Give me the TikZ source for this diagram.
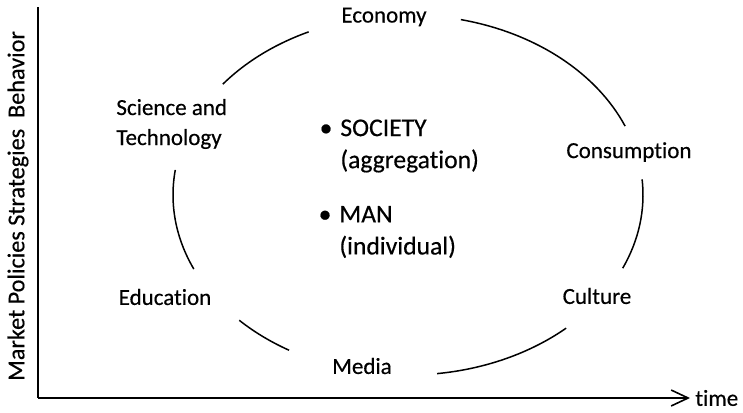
\documentclass[tikz,border=0pt]{standalone}
\usepackage{fontspec}
\setmainfont{Carlito}[Ligatures=NoCommon, FakeBold=0.4]
\usetikzlibrary{arrows.meta}

\begin{document}
\begin{tikzpicture}[
    x=0.5pt, y=-0.5pt,
    lbl/.style={font=\fontsize{11.5}{15}\selectfont, inner sep=0pt},
    mid/.style={lbl, font=\fontsize{12.8}{16}\selectfont, align=left, anchor=west},
    rim/.style={line width=0.75pt},
    axis/.style={line width=1pt},
]
\useasboundingbox (0,0) rectangle (743,412);

% axes
\coordinate (origin) at (38,398);
\coordinate (ytop) at (38,7);
\coordinate (xend) at (690,398);
\draw[axis] (ytop) -- (origin);
\draw[axis, -{Straight Barb[length=8.5pt, width=8pt, line width=0.8pt]}] (origin) -- (xend);
\node[lbl, anchor=west] (time) at (695,398) {time};
\node[lbl, font=\fontsize{12.1}{15}\selectfont, rotate=90] (yaxis) at (18,206) {Market Policies Strategies\ \ Behavior};

% labels round the ring
\node[lbl] (econ) at (384,17) {Economy};
\node[lbl, align=left, anchor=west] (sci) at (116,124) {Science and\\Technology};
\node[lbl] (cons) at (629,152) {Consumption};
\node[lbl] (cult) at (597,296) {Culture};
\node[lbl] (media) at (362,366) {Media};
\node[lbl] (edu) at (165,297) {Education};

% the two levels in the middle
\node[mid] (society) at (340,146) {\llap{\textbullet\hspace{4pt}}SOCIETY\\(aggregation)};
\node[mid] (man) at (339,232) {\llap{\textbullet\hspace{4pt}}MAN\\(individual)};

% broken ring
\coordinate (ctr) at (408,195);
\foreach \a/\b in {218/245, 283/337.5, 355/384, 47.7/82.9, 120.4/135.9, 155.7/188}
  \draw[rim] (ctr) ++(\a:235 and 180) arc[start angle=\a, end angle=\b, x radius=235, y radius=180];

\end{tikzpicture}
\end{document}
